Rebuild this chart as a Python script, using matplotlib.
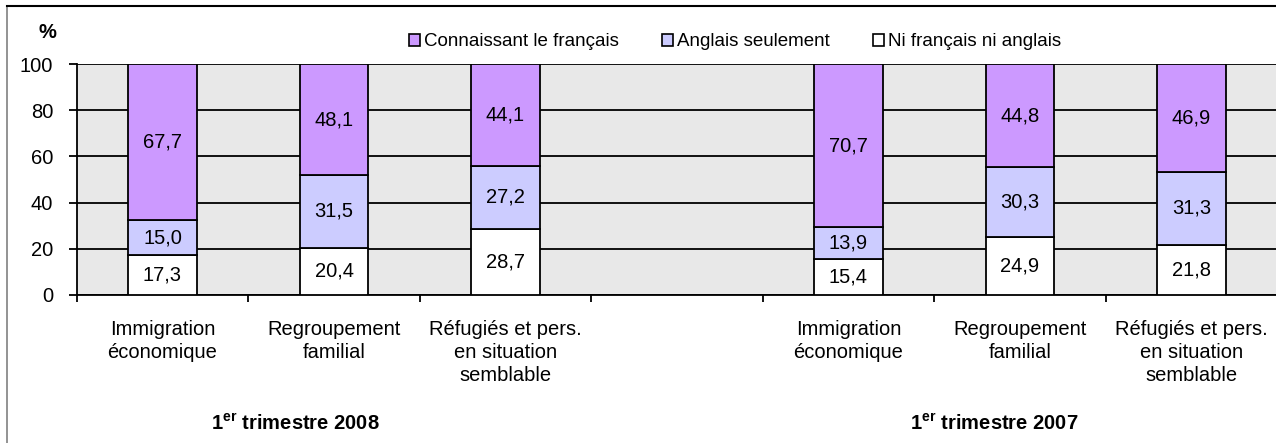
import matplotlib
matplotlib.use("Agg")
import matplotlib.pyplot as plt
from matplotlib.lines import Line2D
from matplotlib.patches import Patch
import numpy as np

plt.rcParams['font.family'] = ['Liberation Sans', 'DejaVu Sans']
plt.rcParams['mathtext.fontset'] = 'custom'
plt.rcParams['mathtext.rm'] = 'Liberation Sans'
plt.rcParams['mathtext.bf'] = 'Liberation Sans:bold'

# categories (empty slot in the middle separates the two periods)
categories = ['Immigration\néconomique', 'Regroupement\nfamilial',
              'Réfugiés et pers.\nen situation\nsemblable', '',
              'Immigration\néconomique', 'Regroupement\nfamilial',
              'Réfugiés et pers.\nen situation\nsemblable']
ni_fr_ni_en = [17.3, 20.4, 28.7, None, 15.4, 24.9, 21.8]
anglais = [15.0, 31.5, 27.2, None, 13.9, 30.3, 31.3]
francais = [67.7, 48.1, 44.1, None, 70.7, 44.8, 46.9]
series_names = ['Connaissant le français', 'Anglais seulement', 'Ni français ni anglais']
group_labels = ['2008', '2007']
yticks = [0, 20, 40, 60, 80, 100]

c_fr = '#cc99ff'
c_en = '#ccccff'
c_ni = '#ffffff'

fig = plt.figure(figsize=(12.76, 4.43), dpi=100)
ax = fig.add_axes([76.75 / 1276, 1 - 295 / 443, 1200.5 / 1276, 231 / 443])
ax.set_facecolor('#e8e8e8')

fs = 14.5
width = 0.40
x = np.arange(len(categories))
for i in x:
    if ni_fr_ni_en[i] is None:
        continue
    segs = [(ni_fr_ni_en[i], c_ni), (anglais[i], c_en), (francais[i], c_fr)]
    bottom = 0
    for val, col in segs:
        ax.bar(i, val, width, bottom=bottom, color=col, edgecolor='black',
               linewidth=1.3, zorder=3)
        ax.text(i, bottom + val / 2, f'{val:.1f}'.replace('.', ','),
                ha='center', va='center', fontsize=fs, zorder=4)
        bottom += val

ax.set_xlim(-0.5, len(categories) - 0.5)
ax.set_ylim(0, 100)
ax.set_yticks(yticks)
ax.set_yticklabels([str(v) for v in yticks], fontsize=fs)
ax.yaxis.grid(True, color='black', linewidth=1.3, zorder=1)
ax.set_axisbelow(True)
ax.tick_params(axis='y', length=6, width=1.3, pad=11)

# ticks between categories, labels under the bars
ax.set_xticks(np.arange(len(categories) + 1) - 0.5)
ax.set_xticklabels([])
ax.tick_params(axis='x', which='major', length=5, width=1.3)
ax.set_xticks(x, minor=True)
ax.set_xticklabels(categories, minor=True, fontsize=fs, linespacing=1.27)
ax.tick_params(axis='x', which='minor', length=0, pad=18)

for s in ['left', 'bottom']:
    ax.spines[s].set_linewidth(1.3)
ax.spines['top'].set_visible(False)
ax.spines['right'].set_visible(False)

fig.text(47 / 1276, 1 - 32 / 443, '%', fontsize=fs, fontweight='bold',
         ha='center', va='center')

handles = [Patch(facecolor=c, edgecolor='black', linewidth=1.2) for c in (c_fr, c_en, c_ni)]
fig.legend(handles, series_names, loc='center', bbox_to_anchor=(735 / 1276, 1 - 42 / 443),
           ncol=3, frameon=False, fontsize=13.5, handlelength=0.6, handleheight=0.6,
           handletextpad=0.2, columnspacing=2.3)

for gx, g in zip([295, 994], group_labels):
    fig.text(gx / 1276, 1 - 424 / 443, r'$\mathbf{1^{er}}$ trimestre ' + g,
             fontsize=14.5, fontweight='bold', ha='center', va='center')

# outer chart border
fig.add_artist(Line2D([7 / 1276, 7 / 1276], [0, 1 - 6 / 443], color='#808080',
                      linewidth=1.2, transform=fig.transFigure))
fig.add_artist(Line2D([7 / 1276, 1], [1 - 6 / 443, 1 - 6 / 443], color='black',
                      linewidth=1.5, transform=fig.transFigure))

fig.savefig('out.png', dpi=100)
